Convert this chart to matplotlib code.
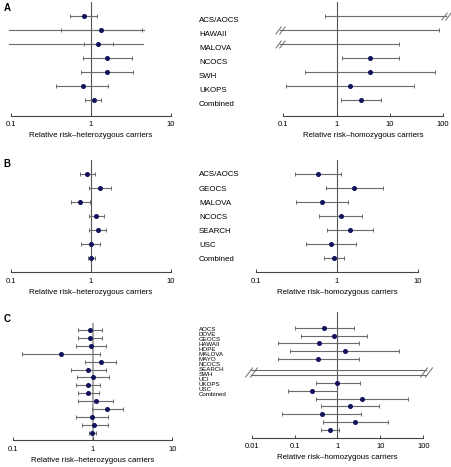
#!/usr/bin/env python3
"""Forest plots: relative risk per study, heterozygous vs homozygous carriers"""
import numpy as np
import matplotlib
matplotlib.use('Agg')
import matplotlib.pyplot as plt
from matplotlib.path import Path

nan = np.nan

# ---- panel A ----
A_STUDIES = ["ACS/AOCS", "HAWAII", "MALOVA", "NCOCS", "SWH", "UKOPS", "Combined"]
A_HET_RR = [0.83, 1.36, 1.25, 1.58, 1.58, 0.79, 1.09]
A_HET_LO = [0.55, 0.43, 0.83, 0.79, 0.75, 0.37, 0.86]
A_HET_HI = [1.20, 4.4, 1.88, 3.3, 3.4, 1.65, 1.33]
A_HET_WIDE_LO = [nan, 0.094, 0.094, nan, nan, nan, nan]
A_HET_WIDE_HI = [nan, 4.7, 4.55, nan, nan, nan, nan]
A_HOM_RR = [nan, nan, nan, 4.28, 4.33, 1.8, 2.86]
A_HOM_LO = [0.62, 0.088, 0.088, 1.24, 0.26, 0.112, 1.2]
A_HOM_HI = [114, 85, 15.2, 15.2, 72, 29, 6.9]
A_HOM_CUT = ["hi", "lo", "lo", "", "", "", ""]

# ---- panel B ----
B_STUDIES = ["ACS/AOCS", "GEOCS", "MALOVA", "NCOCS", "SEARCH", "USC", "Combined"]
B_HET_RR = [0.89, 1.30, 0.73, 1.18, 1.22, 1.01, 1.01]
B_HET_LO = [0.73, 0.94, 0.56, 0.95, 0.95, 0.76, 0.92]
B_HET_HI = [1.12, 1.80, 0.97, 1.47, 1.55, 1.31, 1.12]
B_HOM_RR = [0.58, 1.64, 0.65, 1.11, 1.45, 0.835, 0.92]
B_HOM_LO = [0.30, 0.73, 0.31, 0.60, 0.745, 0.41, 0.70]
B_HOM_HI = [1.13, 3.74, 1.36, 2.06, 2.81, 1.72, 1.23]

# ---- panel C ----
C_STUDIES = ["AOCS", "DOVE", "GEOCS", "HAWAII", "HOPE", "MALOVA", "MAYO",
             "NCOCS", "SEARCH", "SWH", "UCI", "UKOPS", "USC", "Combined"]
C_HET_RR = [0.92, 0.93, 0.96, 0.40, 1.27, 0.88, 1.02, 0.88, 0.88, 1.11, 1.53, 0.97, 1.05, 0.98]
C_HET_LO = [0.65, 0.66, 0.61, 0.13, 0.81, 0.53, 0.64, 0.62, 0.66, 0.66, 0.97, 0.61, 0.73, 0.89]
C_HET_HI = [1.32, 1.32, 1.49, 1.25, 1.98, 1.46, 1.59, 1.22, 1.19, 1.82, 2.43, 1.54, 1.54, 1.09]
C_HOM_RR = [0.49, 0.81, 0.37, 1.48, 0.36, nan, nan, 1.0, 0.25, 3.75, 1.94, 0.43, 2.62, 0.68]
C_HOM_LO = [0.10, 0.138, 0.040, 0.079, 0.040, 0.0095, 0.0095, 0.31, 0.069, 0.31, 0.42, 0.050, 0.46, 0.42]
C_HOM_HI = [2.48, 4.99, 3.25, 27.7, 3.13, 115, 115, 3.37, 1.0, 44, 9.1, 3.6, 14.8, 1.11]
C_HOM_CUT = ["", "", "", "", "", "both", "both", "", "", "", "", "", "", ""]

HET_LABEL = "Relative risk\u2013heterozygous carriers"
HOM_LABEL = "Relative risk\u2013homozygous carriers"

W, H = 452, 467
FONT = "Liberation Sans"
LINE_C = "#6b6b6b"
DOT_C = "#12125e"
AXIS_C = "#444444"

plt.rcParams['font.family'] = [FONT, 'DejaVu Sans']

# 两条平行斜线, 表示区间被截断
BREAK = Path([(-5, -4), (1, 4), (-1, -4), (5, 4)],
             [Path.MOVETO, Path.LINETO, Path.MOVETO, Path.LINETO])


def fx(px):
    return px / W


def fy(py):
    return 1 - py / H


def forest(fig, g, ticks, rr, lo, hi, cut=None, xlabel="", vline=("#555555", 0.8),
           wide_lo=None, wide_hi=None):
    n = len(rr)
    ax = fig.add_axes([fx(g['x0']), fy(g['axis']), (g['x1'] - g['x0']) / W,
                       (g['axis'] - g['top']) / H])
    ax.patch.set_visible(False)
    ax.set_xscale('log')
    ax.set_xlim(*g['xlim'])
    ax.set_ylim((g['axis'] - g['first']) / g['step'], (g['top'] - g['first']) / g['step'])
    for s in ("left", "right", "top"):
        ax.spines[s].set_visible(False)
    ax.spines["bottom"].set_color(AXIS_C)
    ax.spines["bottom"].set_linewidth(0.8)
    ax.set_xticks(ticks)
    ax.set_xticklabels([f"{t:g}" for t in ticks])
    ax.minorticks_off()
    ax.set_yticks([])
    ax.tick_params(axis="x", direction="in", length=2.5, width=0.7, color=AXIS_C,
                   labelsize=5.5, pad=4)
    ax.set_xlabel(xlabel, fontsize=5.7, labelpad=3)

    ax.axvline(1, color=vline[0], lw=vline[1], zorder=1)

    cut = cut or [""] * n
    y = np.arange(n, dtype=float)
    both = [i for i, c in enumerate(cut) if c == "both"]
    if len(both) == 2:
        y[both[0]] += 0.37
        y[both[1]] -= 0.03

    if wide_lo is not None:
        for i in range(n):
            if not np.isnan(wide_lo[i]):
                ax.plot([wide_lo[i], wide_hi[i]], [y[i], y[i]], color=LINE_C, lw=0.8,
                        clip_on=False, zorder=2)

    for i in range(n):
        ax.plot([lo[i], hi[i]], [y[i], y[i]], color=LINE_C, lw=0.8, clip_on=False, zorder=2)
        if cut[i] not in ("lo", "both"):
            ax.plot(lo[i], y[i], marker="|", ms=2.6, mew=0.7, color=LINE_C, clip_on=False, zorder=2)
        if cut[i] not in ("hi", "both"):
            ax.plot(hi[i], y[i], marker="|", ms=2.6, mew=0.7, color=LINE_C, clip_on=False, zorder=2)
        if cut[i] in ("lo", "hi"):
            xb = lo[i] if cut[i] == "lo" else hi[i]
            ax.plot(xb, y[i], marker=BREAK, ms=7, mew=0.7, color=LINE_C, clip_on=False, zorder=3)
        if not np.isnan(rr[i]):
            ax.plot(rr[i], y[i], "o", ms=2.6, color=DOT_C, mec=DOT_C, clip_on=False, zorder=4)

    if len(both) == 2:
        ym = (y[both[0]] + y[both[1]]) / 2
        for xb in (lo[both[0]], hi[both[0]]):
            ax.plot(xb, ym, marker=BREAK, ms=9, mew=0.7, color=LINE_C, clip_on=False, zorder=3)
    return ax


fig = plt.figure(figsize=(W / 100, H / 100), dpi=100)

GA_L = dict(x0=10.7, x1=170.7, xlim=(0.1, 10), top=2, axis=115.5, first=15.7, step=14.05)
GA_R = dict(x0=283.3, x1=443, xlim=(0.1, 100), top=1.7, axis=115.5, first=15.7, step=14.05)
GB_L = dict(x0=10.7, x1=170.7, xlim=(0.1, 10), top=159.7, axis=272.3, first=173.7, step=14.1)
GB_R = dict(x0=256, x1=417.7, xlim=(0.1, 10), top=159.7, axis=272.3, first=173.7, step=14.1)
GC_L = dict(x0=13.2, x1=172.2, xlim=(0.1, 10), top=323.3, axis=440, first=330, step=7.9)
GC_R = dict(x0=251.7, x1=423.3, xlim=(0.01, 100), top=311.7, axis=437.7, first=327.7, step=7.87)

forest(fig, GA_L, [0.1, 1, 10], A_HET_RR, A_HET_LO, A_HET_HI, xlabel=HET_LABEL,
       wide_lo=A_HET_WIDE_LO, wide_hi=A_HET_WIDE_HI)
forest(fig, GA_R, [0.1, 1, 10, 100], A_HOM_RR, A_HOM_LO, A_HOM_HI, cut=A_HOM_CUT, xlabel=HOM_LABEL)
forest(fig, GB_L, [0.1, 1, 10], B_HET_RR, B_HET_LO, B_HET_HI, xlabel=HET_LABEL)
forest(fig, GB_R, [0.1, 1, 10], B_HOM_RR, B_HOM_LO, B_HOM_HI, xlabel=HOM_LABEL)
forest(fig, GC_L, [0.1, 1, 10], C_HET_RR, C_HET_LO, C_HET_HI, xlabel=HET_LABEL,
       vline=("#9a9a9a", 1.2))
forest(fig, GC_R, [0.01, 0.1, 1, 10, 100], C_HOM_RR, C_HOM_LO, C_HOM_HI, cut=C_HOM_CUT,
       xlabel=HOM_LABEL)

# study names between the two columns
for i, name in enumerate(A_STUDIES):
    fig.text(fx(199), fy(GA_L['first'] + GA_L['step'] * i + 6.1), name,
             fontsize=5.7, va="baseline", ha="left")
for i, name in enumerate(B_STUDIES):
    fig.text(fx(199), fy(GB_L['first'] + GB_L['step'] * i + 2.8), name,
             fontsize=5.7, va="baseline", ha="left")
# panel C names are packed tightly, as in the original figure
for i, name in enumerate(C_STUDIES):
    fig.text(fx(199), fy(328.8 + 5.0 * i + 2.2), name,
             fontsize=4.4, va="baseline", ha="left")

for letter, py in (("A", 10.7), ("B", 167), ("C", 322)):
    fig.text(fx(3.5), fy(py), letter, fontsize=7, fontweight="bold", va="baseline", ha="left")

fig.savefig("out.png", dpi=100)
plt.close(fig)
